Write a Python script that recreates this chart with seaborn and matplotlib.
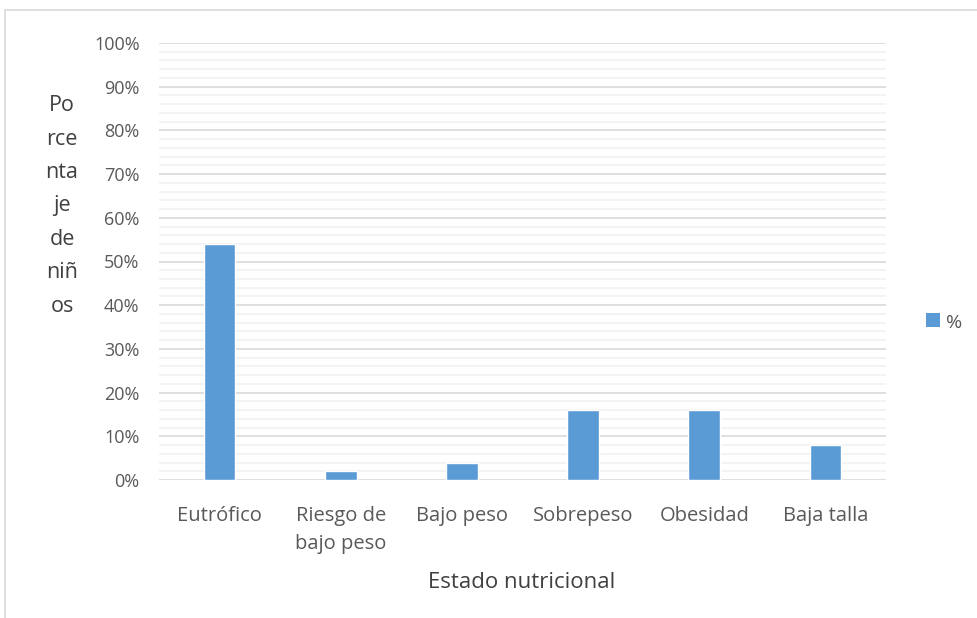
import matplotlib
matplotlib.use("Agg")
import matplotlib.pyplot as plt
import seaborn as sns
import pandas as pd
import numpy as np
from matplotlib.patches import Rectangle
from matplotlib.ticker import MultipleLocator, FuncFormatter

categories = ["Eutrófico", "Riesgo de\nbajo peso", "Bajo peso", "Sobrepeso", "Obesidad", "Baja talla"]
values = [54, 2, 4, 16, 16, 8]
series_name = "%"
y_label = "Po\nrce\nnta\nje\nde\nniñ\nos"
x_label = "Estado nutricional"

sns.set_theme(style="white")
plt.rcParams['font.family'] = ['Open Sans', 'DejaVu Sans']

df = pd.DataFrame({"Estado": categories, "Valor": values, "Serie": series_name})

fig = plt.figure(figsize=(9.77, 6.18), dpi=100)
ax = fig.add_axes([159/977, 1-480/618, (886-159)/977, (480-43)/618])

bar_color = "#5B9BD5"
sns.barplot(data=df, x="Estado", y="Valor", hue="Serie", palette=[bar_color],
            width=0.26, ax=ax, legend=False, saturation=1)

ax.set_ylim(0, 100)
ax.set_xlim(-0.5, len(categories) - 0.5)
ax.yaxis.set_major_locator(MultipleLocator(10))
ax.yaxis.set_minor_locator(MultipleLocator(2))
ax.yaxis.set_major_formatter(FuncFormatter(lambda v, p: f"{int(v)}%"))
ax.grid(which="minor", axis="y", color="#F2F2F2", linewidth=1.3)
ax.grid(which="major", axis="y", color="#D9D9D9", linewidth=1.2)
ax.set_axisbelow(True)
for s in ax.spines.values():
    s.set_visible(False)
ax.tick_params(axis="y", which="both", length=0, pad=14, labelsize=13, labelcolor="#595959")
ax.tick_params(axis="x", length=0, pad=19, labelsize=14.5, labelcolor="#595959")
for lbl in ax.get_xticklabels():
    lbl.set_linespacing(1.5)
    lbl.set_verticalalignment("top")
ax.set_xlabel("")
ax.set_ylabel("")

fig.text(62/977, 1-206/618, y_label, ha="center", va="center", fontsize=15.5,
         color="#404040", linespacing=1.78)
fig.text(522/977, 1-583/618, x_label, ha="center", va="center", fontsize=16, color="#404040")

# legend
fig.patches.append(Rectangle((926/977, 1-327/618), 14/977, 14/618, transform=fig.transFigure,
                             facecolor=bar_color, edgecolor="none"))
fig.text(946/977, 1-323/618, series_name, ha="left", va="center", fontsize=14, color="#595959")

# outer border
fig.patches.append(Rectangle((5/977, -0.01), 1.02, 1-10/618 + 0.01, transform=fig.transFigure,
                             facecolor="none", edgecolor="#D9D9D9", linewidth=1.2))

fig.savefig("out.png", dpi=100)
